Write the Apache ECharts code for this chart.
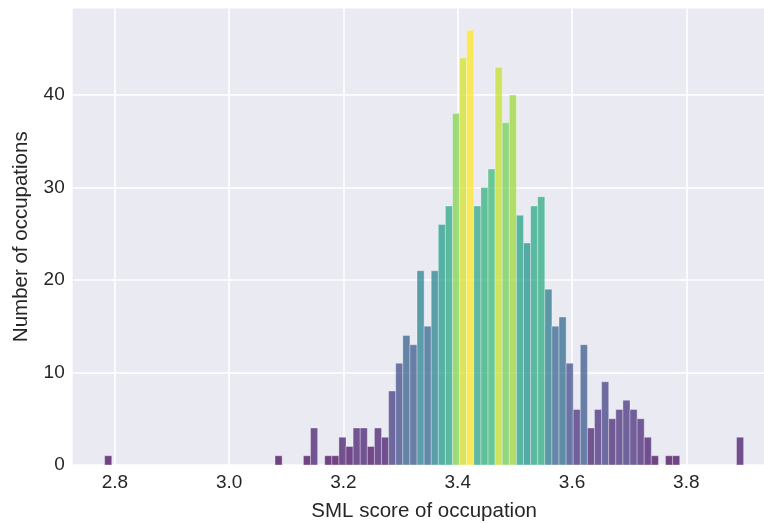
<!DOCTYPE html>
<html>
<head>
<meta charset="utf-8">
<script src="https://cdn.jsdelivr.net/npm/echarts@6/dist/echarts.min.js"></script>
<style>
  html, body { margin: 0; padding: 0; background: #ffffff; }
  #chart { width: 764px; height: 523px; }
</style>
</head>
<body>
<div id="chart"></div>
<script>
// Histogram counts per bin (90 equal-width bins between binMin and binMax)
const counts = [
  1, 0, 0, 0, 0, 0, 0, 0, 0, 0,
  0, 0, 0, 0, 0, 0, 0, 0, 0, 0,
  0, 0, 0, 0, 1, 0, 0, 0, 1, 4,
  0, 1, 1, 3, 2, 4, 4, 2, 4, 3,
  8, 11, 14, 13, 21, 15, 21, 26, 28, 38,
  44, 47, 28, 30, 32, 43, 37, 40, 27, 24,
  28, 29, 19, 15, 16, 11, 6, 13, 4, 6,
  9, 5, 6, 7, 6, 5, 3, 1, 0, 1,
  1, 0, 0, 0, 0, 0, 0, 0, 0, 3
];
const binMin = 2.782;
const binMax = 3.9003;
const xTicks = [2.8, 3.0, 3.2, 3.4, 3.6, 3.8];
const yTicks = [0, 10, 20, 30, 40];
const viridis = ['#440154', '#482878', '#3e4989', '#31688e', '#26828e',
                 '#1f9e89', '#35b779', '#6ece58', '#b5de2b', '#fde725'];

const binW = (binMax - binMin) / counts.length;
const barData = counts.map((c, i) => [binMin + i * binW, binMin + (i + 1) * binW, c]);
const maxCount = Math.max.apply(null, counts);

const chart = echarts.init(document.getElementById('chart'), null, { renderer: 'canvas' });
const font = "'Liberation Sans', Arial, sans-serif";
chart.setOption({
  animation: false,
  backgroundColor: '#ffffff',
  grid: {
    left: 72.7, right: -11.6, top: 8.5, bottom: 58,
    outerBoundsMode: 'none', containLabel: false,
    show: true, backgroundColor: '#eaeaf2', borderWidth: 0
  },
  visualMap: {
    show: false, type: 'continuous', dimension: 2,
    min: 0, max: maxCount, seriesIndex: 0,
    inRange: { color: viridis }
  },
  xAxis: {
    type: 'value', min: 2.7261, max: 3.9563,
    name: 'SML score of occupation', nameLocation: 'middle', nameGap: 36,
    nameTextStyle: { fontFamily: font, fontSize: 20.5, color: '#262626' },
    axisLine: { show: false },
    axisTick: { show: false, customValues: xTicks },
    axisLabel: {
      customValues: xTicks, margin: 8,
      fontFamily: font, fontSize: 19, color: '#262626',
      formatter: v => v.toFixed(1)
    },
    splitLine: { show: true, lineStyle: { color: '#ffffff', width: 1.6 } }
  },
  yAxis: {
    type: 'value', min: 0, max: 49.35,
    name: 'Number of occupations', nameLocation: 'middle', nameGap: 41,
    nameTextStyle: { fontFamily: font, fontSize: 20.5, color: '#262626' },
    axisLine: { show: false },
    axisTick: { show: false, customValues: yTicks },
    axisLabel: {
      customValues: yTicks, margin: 8,
      fontFamily: font, fontSize: 19, color: '#262626'
    },
    splitLine: { show: true, lineStyle: { color: '#ffffff', width: 1.6 } }
  },
  series: [{
    type: 'custom',
    data: barData,
    encode: { x: [0, 1], y: 2 },
    renderItem: function (params, api) {
      const c = api.value(2);
      if (!c) return null;
      const p0 = api.coord([api.value(0), 0]);
      const p1 = api.coord([api.value(1), c]);
      return {
        type: 'rect',
        shape: { x: p0[0], y: p1[1], width: p1[0] - p0[0], height: p0[1] - p1[1] },
        style: {
          fill: api.visual('color'),
          opacity: 0.74,
          stroke: 'rgba(255,255,255,0.55)',
          lineWidth: 0.8
        }
      };
    }
  }]
});
</script>
</body>
</html>
